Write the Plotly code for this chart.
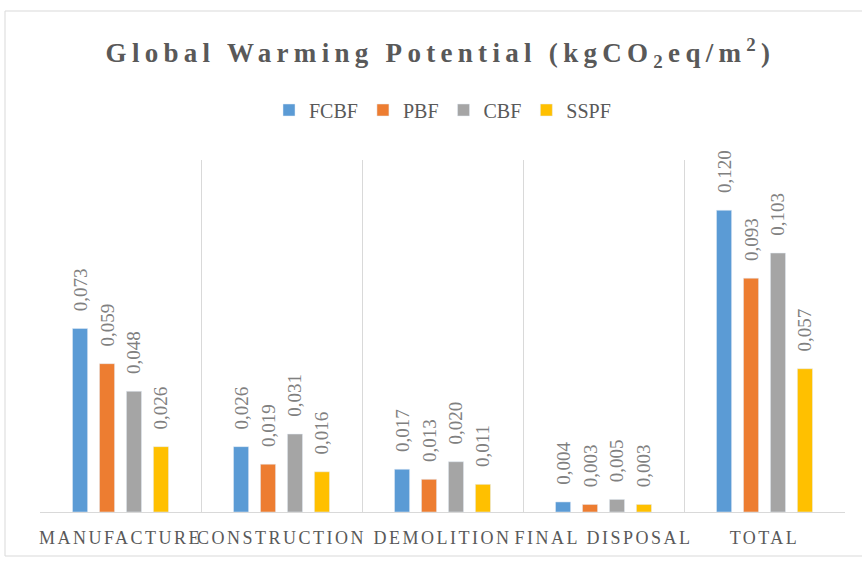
import plotly.graph_objects as go

categories = ["MANUFACTURE", "CONSTRUCTION", "DEMOLITION", "FINAL DISPOSAL", "TOTAL"]
series_names = ["FCBF", "PBF", "CBF", "SSPF"]
fcbf = [0.073, 0.026, 0.017, 0.004, 0.120]
pbf = [0.059, 0.019, 0.013, 0.003, 0.093]
cbf = [0.048, 0.031, 0.020, 0.005, 0.103]
sspf = [0.026, 0.016, 0.011, 0.003, 0.057]
colors = ["#5B9BD5", "#ED7D31", "#A5A5A5", "#FFC000"]

W, H = 862, 561
ml, mr, mt, mb = 40, 17, 160, 49
pw, ph = W - ml - mr, H - mt - mb

font_family = "Liberation Serif, DejaVu Serif, serif"
txt_color = "#595959"
# transparent padding between bar top and the rotated value label (label reads bottom-to-top)
pad = "<span style='color:rgba(0,0,0,0)'>.0</span>"

fig = go.Figure()
for name, vals, col in zip(series_names, [fcbf, pbf, cbf, sspf], colors):
    fig.add_trace(go.Bar(
        name=name, x=categories, y=vals, marker_color=col,
        text=[pad + f"{v:.3f}".replace(".", ",") for v in vals],
        textposition="outside", textangle=-90, constraintext="none",
        textfont=dict(family=font_family, size=19, color="#808080"),
        cliponaxis=False, hoverinfo="skip",
    ))

def px_x(p):
    return (p - ml) / pw

def px_y(p):
    return (H - mb - p) / ph

fig.update_layout(
    width=W, height=H,
    margin=dict(l=ml, r=mr, t=mt, b=mb, autoexpand=False),
    paper_bgcolor="white", plot_bgcolor="white",
    barmode="group", bargap=0.33, bargroupgap=0.44,
    title=dict(
        text="Global Warming Potential (kgCO<sub>2</sub>eq/m<sup>2</sup>)",
        x=0.511, xanchor="center", y=1 - 53 / H, yanchor="middle",
        font=dict(family=font_family, size=27, color=txt_color, weight="bold"),
    ),
    legend=dict(
        orientation="h", x=0.5, xanchor="center", y=px_y(110), yanchor="middle",
        font=dict(family=font_family, size=20, color=txt_color),
        itemwidth=30, traceorder="normal",
    ),
    xaxis=dict(
        type="category", tickson="boundaries", showgrid=True, gridcolor="#d9d9d9",
        gridwidth=1, showline=True, linecolor="#d9d9d9", linewidth=1, ticks="",
        tickfont=dict(family=font_family, size=18, color=txt_color),
        ticklabelstandoff=9, automargin=False,
    ),
    yaxis=dict(range=[0, 0.14], visible=False, showgrid=False, automargin=False),
    shapes=[dict(
        type="rect", xref="paper", yref="paper",
        x0=px_x(5), x1=px_x(875), y0=px_y(556), y1=px_y(11),
        line=dict(color="#d9d9d9", width=1), fillcolor="rgba(0,0,0,0)", layer="below",
    )],
)

post = """
document.body.style.margin='0';
document.body.style.padding='0';
document.querySelectorAll('.gtitle').forEach(function(e){e.style.letterSpacing='5.3px';});
document.querySelectorAll('.xtick text').forEach(function(e){e.style.letterSpacing='2.5px';});
"""
fig.write_html("out.html", post_script=post, config={"displayModeBar": False})
